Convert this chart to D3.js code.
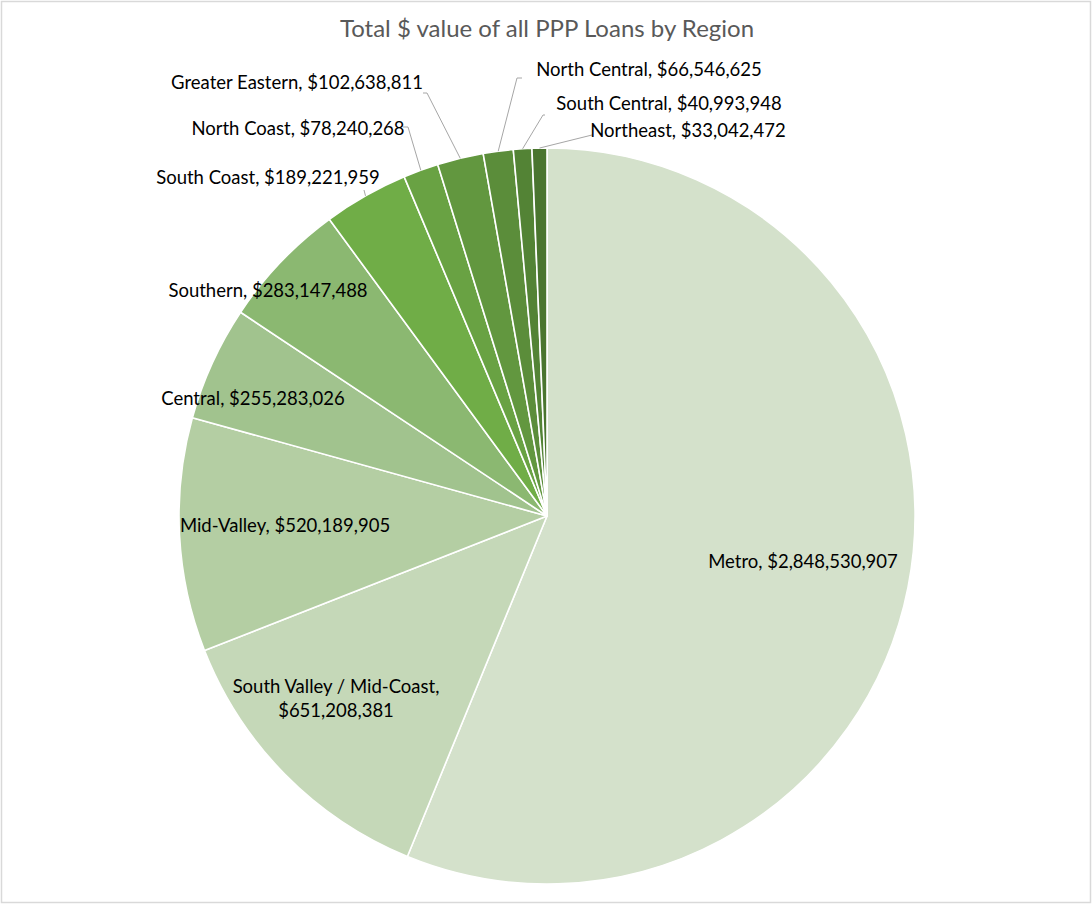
<!DOCTYPE html>
<html>
<head>
<meta charset="utf-8">
<script src="https://cdn.jsdelivr.net/npm/d3@7"></script>
<style>
  html, body { margin: 0; padding: 0; background: #fff; }
  svg { display: block; }
  text { font-family: Lato, "Open Sans", sans-serif; }
</style>
</head>
<body>
<svg id="chart" width="1092" height="904"></svg>
<script>
// PPP loan totals by region, in data order (clockwise from 12 o'clock)
const regions = [
  "Metro", "South Valley / Mid-Coast", "Mid-Valley", "Central", "Southern",
  "South Coast", "North Coast", "Greater Eastern", "North Central",
  "South Central", "Northeast"
];
const loanTotals = [
  2848530907, 651208381, 520189905, 255283026, 283147488,
  189221959, 78240268, 102638811, 66546625, 40993948, 33042472
];
const sliceColors = [
  "#d4e1cb", "#c5d8b8", "#b4cea3", "#a1c38e", "#8bb871",
  "#70ad47", "#69a243", "#62973f", "#5b8d3a", "#538335", "#4a752f"
];
const chartTitle = "Total $ value of all PPP Loans by Region";

// Label placement relative to the pie centre: [dx, dy] of text centre,
// optional leader start [lx, ly] and elbow length (+ right, - left)
const labelLayout = [
  { dx: 256,  dy: 45 },
  { dx: -211, dy: 182, lines: true },
  { dx: -262, dy: 9 },
  { dx: -294, dy: -118 },
  { dx: -279, dy: -226 },
  { dx: -279, dy: -339, leader: [-183, -326], elbow: 0 },
  { dx: -249, dy: -388, leader: [-144, -389], elbow: 5 },
  { dx: -250, dy: -434, leader: [-124, -423], elbow: 4 },
  { dx: 102,  dy: -447, leader: [-25, -438], elbow: -5 },
  { dx: 122,  dy: -413, leader: [-2, -401], elbow: -2 },
  { dx: 141,  dy: -386, leader: [45, -381], elbow: 0 }
];

const W = 1092, H = 904;
const cx = 547, cy = 516, R = 368;
const svg = d3.select("#chart");

// chart frame
svg.append("rect")
  .attr("x", 1.5).attr("y", 1.5)
  .attr("width", W - 3).attr("height", H - 3)
  .attr("fill", "#fff")
  .attr("stroke", "#d9d9d9").attr("stroke-width", 1.5);

svg.append("text")
  .attr("x", cx).attr("y", 27)
  .attr("text-anchor", "middle")
  .attr("dominant-baseline", "central")
  .attr("font-size", 24)
  .attr("fill", "#595959")
  .text(chartTitle);

const data = regions.map((name, i) => ({ name, value: loanTotals[i], i }));

const pie = d3.pie().value(d => d.value).sort(null);
const arc = d3.arc().innerRadius(0).outerRadius(R);
const arcs = pie(data);

const g = svg.append("g").attr("transform", `translate(${cx},${cy})`);

g.selectAll("path.slice")
  .data(arcs)
  .join("path")
  .attr("class", "slice")
  .attr("d", arc)
  .attr("fill", d => sliceColors[d.data.i])
  .attr("stroke", "#fff")
  .attr("stroke-width", 1.6)
  .attr("stroke-linejoin", "round");

const fmt = d3.format("$,");

// leader lines for the narrow slices
arcs.forEach(d => {
  const L = labelLayout[d.data.i];
  if (!L.leader) return;
  const mid = (d.startAngle + d.endAngle) / 2;
  const ex = R * Math.sin(mid), ey = -R * Math.cos(mid);
  const [sx, sy] = L.leader;
  const pts = [[sx, sy]];
  if (L.elbow) pts.push([sx + L.elbow, sy]);
  pts.push([ex, ey]);
  g.append("path")
    .attr("d", d3.line()(pts))
    .attr("fill", "none")
    .attr("stroke", "#a6a6a6")
    .attr("stroke-width", 1);
});

// labels
arcs.forEach(d => {
  const L = labelLayout[d.data.i];
  const label = g.append("text")
    .attr("x", L.dx).attr("y", L.dy)
    .attr("text-anchor", "middle")
    .attr("dominant-baseline", "central")
    .attr("font-size", 18.5)
    .attr("fill", "#000");
  if (L.lines) {
    label.append("tspan").attr("x", L.dx).attr("y", L.dy - 12).text(d.data.name + ",");
    label.append("tspan").attr("x", L.dx).attr("y", L.dy + 12).text(fmt(d.data.value));
  } else {
    label.text(`${d.data.name}, ${fmt(d.data.value)}`);
  }
});
</script>
</body>
</html>
